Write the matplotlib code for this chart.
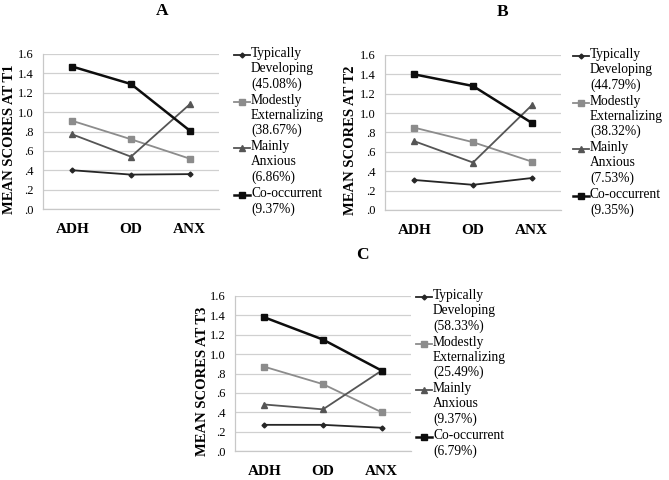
import matplotlib.pyplot as plt
from matplotlib.lines import Line2D

plt.rcParams["font.family"] = ["Liberation Serif", "DejaVu Serif"]

categories = ["ADH", "OD", "ANX"]
group_names = ["Typically\nDeveloping", "Modestly\nExternalizing", "Mainly\nAnxious", "Co-occurrent"]

# mean scores per panel: typically developing, modestly externalizing, mainly anxious, co-occurrent
t1_td = [0.40, 0.355, 0.36]
t1_me = [0.91, 0.72, 0.52]
t1_ma = [0.77, 0.54, 1.08]
t1_co = [1.47, 1.29, 0.81]
t1_pct = ["45.08%", "38.67%", "6.86%", "9.37%"]

t2_td = [0.31, 0.26, 0.33]
t2_me = [0.85, 0.70, 0.50]
t2_ma = [0.71, 0.49, 1.08]
t2_co = [1.40, 1.28, 0.90]
t2_pct = ["44.79%", "38.32%", "7.53%", "9.35%"]

t3_td = [0.27, 0.27, 0.24]
t3_me = [0.87, 0.69, 0.40]
t3_ma = [0.48, 0.43, 0.83]
t3_co = [1.38, 1.15, 0.83]
t3_pct = ["58.33%", "25.49%", "9.37%", "6.79%"]

y_ticks = [0.0, 0.2, 0.4, 0.6, 0.8, 1.0, 1.2, 1.4, 1.6]
y_tick_labels = [".0", ".2", ".4", ".6", ".8", "1.0", "1.2", "1.4", "1.6"]

styles = [
    dict(color="#262626", marker="D", markersize=2.5, lw=1.3),
    dict(color="#8c8c8c", marker="s", markersize=4, lw=1.3),
    dict(color="#555555", marker="^", markersize=4, lw=1.3),
    dict(color="#0d0d0d", marker="s", markersize=4.5, lw=1.8),
]

W, H = 669, 480
fig = plt.figure(figsize=(W / 100, H / 100), dpi=100)

# (axes left px, axes bottom px, legend x px, title x/y px, ylabel offset px, letter, time, data)
panels = [
    (43, 209, 234, (162, 11), -33, "A", "T1", [t1_td, t1_me, t1_ma, t1_co], t1_pct),
    (385, 210, 573, (503, 12), -35, "B", "T2", [t2_td, t2_me, t2_ma, t2_co], t2_pct),
    (235, 451, 416, (362, 255), -32, "C", "T3", [t3_td, t3_me, t3_ma, t3_co], t3_pct),
]
ax_w, ax_h = 176, 155

for left, bottom, leg_x, (tx, ty), lab_off, letter, tlabel, series, pct in panels:
    ax = fig.add_axes([left / W, 1 - bottom / H, ax_w / W, ax_h / H])
    x = range(len(categories))
    for vals, st in zip(series, styles):
        ax.plot(x, vals, **st)
    ax.set_xlim(-0.5, 2.5)
    ax.set_ylim(0, 1.6)
    ax.set_yticks(y_ticks)
    ax.set_yticklabels(y_tick_labels, fontsize=9)
    ax.set_xticks(list(x))
    ax.set_xticklabels(categories, fontsize=11, fontweight="bold")
    ax.tick_params(axis="y", length=0, pad=6.5)
    ax.tick_params(axis="x", length=0, pad=10)
    ax.grid(axis="y", color="#d0d0d0", lw=0.9)
    ax.set_axisbelow(True)
    for s in ["top", "right"]:
        ax.spines[s].set_visible(False)
    for s in ["left", "bottom"]:
        ax.spines[s].set_color("#c8c8c8")
        ax.spines[s].set_linewidth(0.9)
    ax.set_ylabel(f"MEAN SCORES AT {tlabel}", fontsize=10.5, fontweight="bold")
    ax.yaxis.set_label_coords(lab_off / ax_w, 0.45)
    ax.yaxis.label.set_va("center")

    fig.text(tx / W, 1 - ty / H, letter, fontsize=12.5, fontweight="bold",
             ha="center", va="center")

    # legend
    top_px = bottom - ax_h
    for i, (name, p, st) in enumerate(zip(group_names, pct, styles)):
        yc = top_px + 1 + i * 46.7
        fig.add_artist(Line2D([leg_x / W, (leg_x + 16) / W], [1 - yc / H, 1 - yc / H],
                              transform=fig.transFigure, color=st["color"], lw=st["lw"]))
        fig.add_artist(Line2D([(leg_x + 8) / W], [1 - yc / H], transform=fig.transFigure,
                              color=st["color"], marker=st["marker"],
                              markersize=st["markersize"], lw=0))
        fig.text((leg_x + 17) / W, 1 - (yc - 8) / H, f"{name}\n({p})", fontsize=9.75,
                 ha="left", va="top", linespacing=1.2)

fig.savefig("out.png", dpi=100)
